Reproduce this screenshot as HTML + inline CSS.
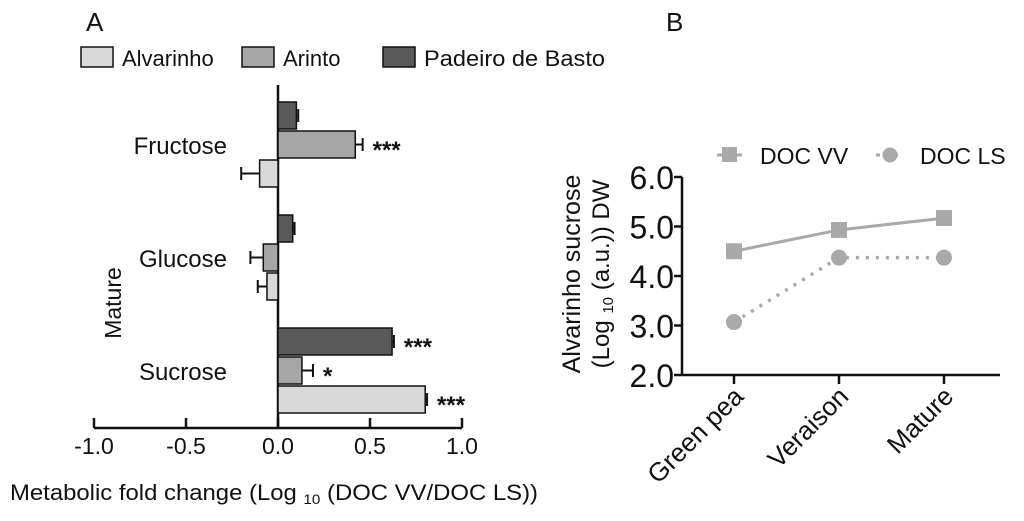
<!DOCTYPE html>
<html><head><meta charset="utf-8"><style>
body{margin:0;background:#fff;font-family:"Liberation Sans",sans-serif}
svg text{font-family:"Liberation Sans",sans-serif;fill:#111}
</style></head><body>
<svg id="c" width="1024" height="516" viewBox="0 0 1024 516" xmlns="http://www.w3.org/2000/svg">
<text x="86" y="31" font-size="26">A</text>
<text x="666" y="31" font-size="26">B</text>
<g>
<g><rect x="81" y="47" width="32" height="20" fill="#d9d9d9" stroke="#111" stroke-width="1.5"/><text x="122" y="66" font-size="22">Alvarinho</text></g>
<g><rect x="242" y="47" width="32" height="20" fill="#a6a6a6" stroke="#111" stroke-width="1.5"/><text x="283" y="66" font-size="22">Arinto</text></g>
<g><rect x="383" y="47" width="32" height="20" fill="#595959" stroke="#111" stroke-width="1.5"/><text x="424" y="66" font-size="22" textLength="181" lengthAdjust="spacingAndGlyphs">Padeiro de Basto</text></g>
</g>
<g id="ga"></g>
<g id="gb"></g>
</svg>
<script>
const sugars=["Fructose","Glucose","Sucrose"];
const padeiro=[0.10,0.08,0.62];
const padeiroErr=[0.01,0.01,0.01];
const arinto=[0.42,-0.08,0.13];
const arintoErr=[0.04,0.07,0.06];
const alvarinho=[-0.10,-0.06,0.80];
const alvarinhoErr=[0.10,0.05,0.01];
const padeiroSig=["","","***"];
const arintoSig=["***","","*"];
const alvarinhoSig=["","","***"];
const xTicksA=[-1.0,-0.5,0.0,0.5,1.0];
const stages=["Green pea","Veraison","Mature"];
const docVV=[4.5,4.93,5.17];
const docLS=[3.07,4.37,4.37];
const yTicksB=[2.0,3.0,4.0,5.0,6.0];

const NS="http://www.w3.org/2000/svg";
function el(t,a,p){const e=document.createElementNS(NS,t);for(const k in a)e.setAttribute(k,a[k]);p.appendChild(e);return e;}
const ga=document.getElementById('ga'),gb=document.getElementById('gb');
const xA=v=>278+v*184;
const gy=i=>145+i*113;
let ax=el('line',{x1:278,y1:85,x2:278,y2:428,stroke:'#111','stroke-width':2.5},ga);

let xa=el('line',{x1:xA(-1),y1:428,x2:xA(1),y2:428,stroke:'#111','stroke-width':2.5},ga);

xTicksA.forEach(t=>{
 let l=el('line',{x1:xA(t),y1:428,x2:xA(t),y2:418,stroke:'#111','stroke-width':2.5},ga);
 
 let tx=el('text',{x:xA(t),y:454,'font-size':23,'text-anchor':'middle'},ga);tx.textContent=t.toFixed(1);
 
});
let xt=el('text',{x:10,y:500,'font-size':22,textLength:528,lengthAdjust:'spacingAndGlyphs'},ga);
xt.innerHTML='Metabolic fold change (Log <tspan font-size="14" dy="4">10</tspan><tspan dy="-4"> (DOC VV/DOC LS))</tspan>';

let yt=el('text',{x:0,y:0,'font-size':23,'text-anchor':'middle',transform:'translate(121,303) rotate(-90)'},ga);yt.textContent='Mature';

const series=[[padeiro,padeiroErr,padeiroSig,'#595959',-43],[arinto,arintoErr,arintoSig,'#a6a6a6',-14],[alvarinho,alvarinhoErr,alvarinhoSig,'#d9d9d9',15]];
sugars.forEach((s,i)=>{
 let c=el('text',{x:227,y:gy(i)+9,'font-size':24,'text-anchor':'end'},ga);c.textContent=s;
 
 series.forEach(([vals,errs,sig,col,off],k)=>{
  const v=vals[i],y=gy(i)+off,x0=xA(0),x1=xA(v);
  let r=el('rect',{x:Math.min(x0,x1),y:y,width:Math.abs(x1-x0),height:27,fill:col,stroke:'#111','stroke-width':1.5},ga);
  
  const sgn=v<0?-1:1,xe=xA(v+sgn*errs[i]);
  let e=el('path',{d:`M${x1} ${y+13.5}H${xe}M${xe} ${y+7}V${y+20}`,stroke:'#111','stroke-width':2,fill:'none'},ga);
  
  if(sig[i]){let t=el('text',{x:xe+10,y:y+27,'font-size':24,'font-weight':'bold'},ga);t.textContent=sig[i];
   }
 });
});
const xB=i=>734+i*105, yB=v=>375-(v-2)*49.5;
let by=el('line',{x1:682,y1:yB(6),x2:682,y2:376,stroke:'#111','stroke-width':2.5},gb);

let bx=el('line',{x1:682,y1:375,x2:1000,y2:375,stroke:'#111','stroke-width':2.5},gb);

yTicksB.forEach(t=>{
 let l=el('line',{x1:674,y1:yB(t),x2:682,y2:yB(t),stroke:'#111','stroke-width':2.5},gb);
 
 let tx=el('text',{x:674,y:yB(t)+12,'font-size':32,'text-anchor':'end'},gb);tx.textContent=t.toFixed(1);
 
});
stages.forEach((s,i)=>{
 let l=el('line',{x1:xB(i),y1:375,x2:xB(i),y2:384,stroke:'#111','stroke-width':2.5},gb);
 
 let tx=el('text',{x:0,y:0,'font-size':26,'text-anchor':'end',transform:`translate(${xB(i)+11},${398}) rotate(-45)`},gb);tx.textContent=s;
 
});
let t1=el('text',{x:0,y:0,'font-size':25,'text-anchor':'middle',transform:'translate(580,274) rotate(-90)'},gb);t1.textContent='Alvarinho sucrose';

let t2=el('text',{x:0,y:0,'font-size':24,'text-anchor':'middle',transform:'translate(609,274) rotate(-90)'},gb);
t2.innerHTML='(Log <tspan font-size="15" dy="4">10</tspan><tspan dy="-4"> (a.u.)) DW</tspan>';

const lineCol='#a9a9a9';
let pv=el('polyline',{points:docVV.map((v,i)=>xB(i)+','+yB(v)).join(' '),fill:'none',stroke:lineCol,'stroke-width':3},gb);

let pl=el('polyline',{points:docLS.map((v,i)=>xB(i)+','+yB(v)).join(' '),fill:'none',stroke:lineCol,'stroke-width':3.5,'stroke-dasharray':'3 7'},gb);

docVV.forEach((v,i)=>{let r=el('rect',{x:xB(i)-8,y:yB(v)-8,width:16,height:16,fill:lineCol},gb);
 });
docLS.forEach((v,i)=>{let c=el('circle',{cx:xB(i),cy:yB(v),r:8,fill:lineCol},gb);
 });
let lg=el('g',{},gb);
el('line',{x1:717,y1:155,x2:742,y2:155,stroke:lineCol,'stroke-width':3},lg);
el('rect',{x:722,y:147,width:15,height:15,fill:lineCol},lg);
let lt1=el('text',{x:760,y:164,'font-size':23},lg);lt1.textContent='DOC VV';

el('line',{x1:876,y1:155,x2:902,y2:155,stroke:lineCol,'stroke-width':3,'stroke-dasharray':'4 5'},lg);
el('circle',{cx:890,cy:155,r:7.5,fill:lineCol},lg);
let lt2=el('text',{x:920,y:164,'font-size':23},lg);lt2.textContent='DOC LS';

</script>
</body></html>
